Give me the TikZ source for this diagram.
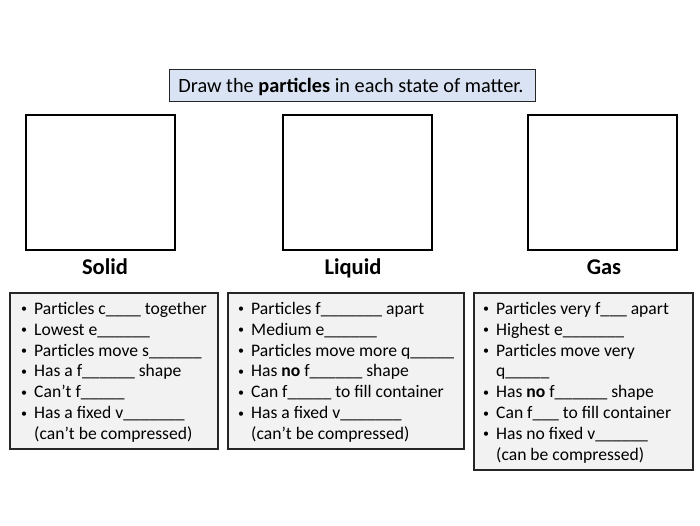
\documentclass[tikz,border=0pt]{standalone}
\usepackage{fontspec}
\setmainfont{Carlito}
\definecolor{titlefill}{HTML}{DAE3F3}
\definecolor{boxfill}{HTML}{F2F2F2}
\definecolor{boxline}{HTML}{262626}
\newcommand\gap[1]{\foreach\gapi in {1,...,#1}{\char95}}
\newcommand\bl{\makebox[14pt][l]{\hspace*{1pt}\raisebox{1.6pt}{\fontsize{12}{12}\selectfont•}}}
\newcommand\cont{\hspace*{14pt}}
\tikzset{
  titlebox/.style={draw=boxline, line width=0.8pt, fill=titlefill},
  drawsq/.style={draw=black, line width=2.6pt},
  infobox/.style={draw=boxline, line width=1.4pt, fill=boxfill},
  lbl/.style={anchor=base, inner sep=0pt, font=\fontsize{22.5}{26}\selectfont\bfseries},
  infotext/.style={anchor=north west, inner sep=0pt, align=left,
    font=\fontsize{17.6}{20.85}\selectfont},
}
\begin{document}
\begin{tikzpicture}[x=1pt,y=-1pt]
\useasboundingbox (0,0) rectangle (700,525);
% title
\draw[titlebox] (169,69) rectangle (535,101);
\node[anchor=base, inner sep=0pt, font=\fontsize{20.3}{24}\selectfont] (title) at (351,92) {Draw the \textbf{particles} in each state of matter.};
% squares
\draw[drawsq] (26,115) rectangle (175,250);
\draw[drawsq] (283,115) rectangle (432,250);
\draw[drawsq] (528,115) rectangle (677,250);
% labels
\node[lbl] (solid) at (105,274) {Solid};
\node[lbl] (liquid) at (353,274) {Liquid};
\node[lbl] (gas) at (604,274) {Gas};
% info boxes
\draw[infobox] (10,293) rectangle (218,449);
\draw[infobox] (228,293) rectangle (464,449);
\draw[infobox] (474,293) rectangle (693,470);
\node[infotext] (solidtext) at (20,302) {%
\bl Particles c\gap4 together\\
\bl Lowest e\gap6\\
\bl Particles move s\gap6\\
\bl Has a f\gap6 shape\\
\bl Can’t f\gap5\\
\bl Has a fixed v\gap7\\
\cont(can’t be compressed)};
\node[infotext] (liquidtext) at (237,302) {%
\bl Particles f\gap7 apart\\
\bl Medium e\gap6\\
\bl Particles move more q\gap5\\
\bl Has \textbf{no} f\gap6 shape\\
\bl Can f\gap5 to fill container\\
\bl Has a fixed v\gap7\\
\cont(can’t be compressed)};
\node[infotext] (gastext) at (482,302) {%
\bl Particles very f\gap3 apart\\
\bl Highest e\gap7\\
\bl Particles move very\\
\cont q\gap5\\
\bl Has \textbf{no} f\gap6 shape\\
\bl Can f\gap3 to fill container\\
\bl Has no fixed v\gap6\\
\cont(can be compressed)};
\end{tikzpicture}
\end{document}
